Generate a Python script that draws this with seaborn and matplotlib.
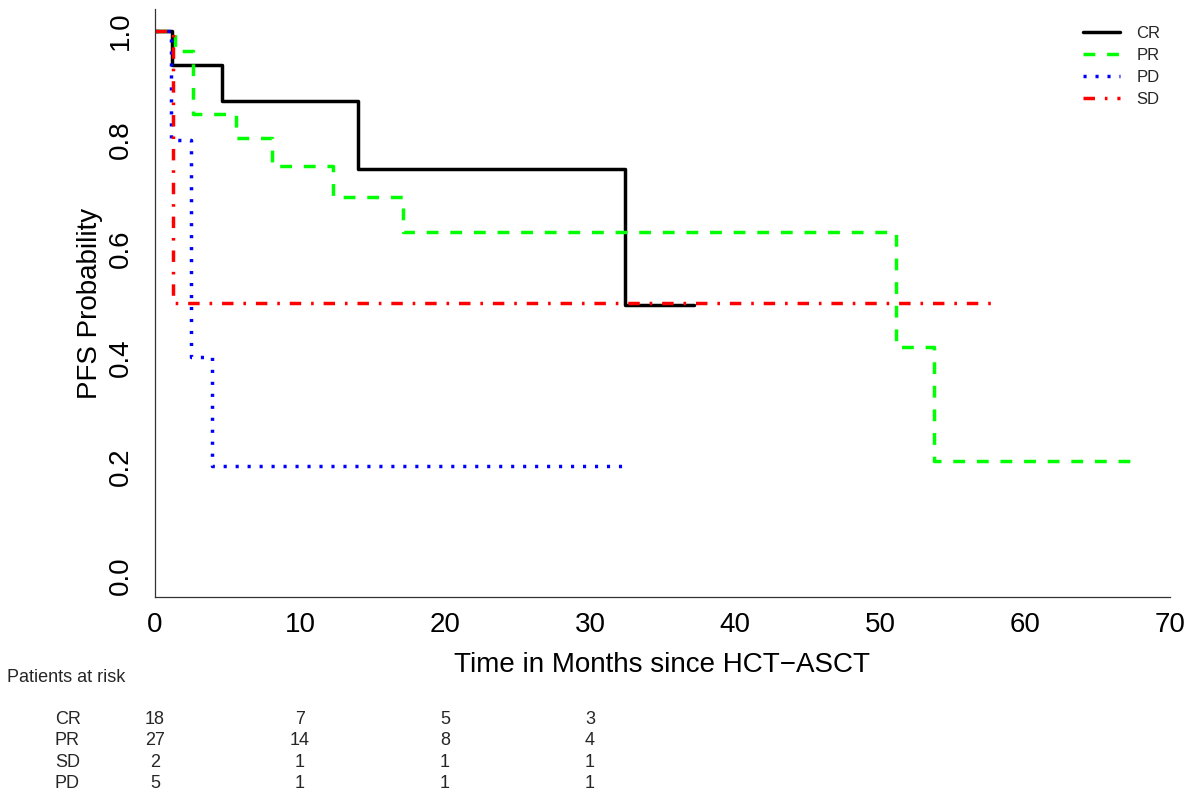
import numpy as np
import pandas as pd
import matplotlib
matplotlib.use("Agg")
import matplotlib.pyplot as plt
import matplotlib.transforms as mtransforms
import seaborn as sns

# ---------------- data ----------------
groups = ["CR", "PR", "PD", "SD"]

cr_time = [0, 1.15, 4.6, 14.0, 32.4, 37.15]
cr_surv = [1.0, 0.938, 0.871, 0.746, 0.497, 0.497]

pr_time = [0, 1.4, 2.6, 5.6, 8.1, 12.25, 17.1, 51.1, 53.75, 67.4]
pr_surv = [1.0, 0.962, 0.847, 0.803, 0.752, 0.695, 0.630, 0.420, 0.210, 0.210]

pd_time = [0, 1.1, 2.5, 3.9, 32.6]
pd_surv = [1.0, 0.8, 0.4, 0.2, 0.2]

sd_time = [0, 1.25, 57.75]
sd_surv = [1.0, 0.5, 0.5]

xticks = [0, 10, 20, 30, 40, 50, 60, 70]
yticks = [0.0, 0.2, 0.4, 0.6, 0.8, 1.0]
ytick_labels = ["0.0", "0.2", "0.4", "0.6", "0.8", "1.0"]

risk_times = [0, 10, 20, 30]
risk_rows = ["CR", "PR", "SD", "PD"]
risk_cr = [18, 7, 5, 3]
risk_pr = [27, 14, 8, 4]
risk_sd = [2, 1, 1, 1]
risk_pd = [5, 1, 1, 1]

# ---------------- style ----------------
sns.set_theme(style="white")
plt.rcParams["font.family"] = ["Liberation Sans", "DejaVu Sans"]

W, H = 1189, 795
fig = plt.figure(figsize=(W / 100, H / 100), dpi=100)
ax = fig.add_axes([155 / W, (H - 597) / H, (1170 - 155) / W, (597 - 9) / H])

series = {
    "CR": (cr_time, cr_surv, "black", "-"),
    "PR": (pr_time, pr_surv, "#00ff00", (0, (3.4, 3.4))),
    "PD": (pd_time, pd_surv, "#0000ff", (0, (0.9, 2.55))),
    "SD": (sd_time, sd_surv, "#ff0000", (0, (3.3, 2.85, 0.75, 2.85))),
}

lw = 2.5
handles = {}
for g in ["CR", "PR", "PD", "SD"]:
    t, s, c, ls = series[g]
    df = pd.DataFrame({"time": t, "surv": s})
    sns.lineplot(data=df, x="time", y="surv", ax=ax, color=c, linestyle=ls,
                 linewidth=lw, drawstyle="steps-post", estimator=None,
                 sort=False, legend=False)
    handles[g] = ax.lines[-1]

ax.set_xlim(0, 70)
ax.set_ylim(-0.04, 1.04)
ax.set_xticks(xticks)
ax.set_xticklabels([str(v) for v in xticks])
ax.set_yticks(yticks)
ax.set_yticklabels(ytick_labels)

for side in ["top", "right"]:
    ax.spines[side].set_visible(False)
for side in ["left", "bottom"]:
    ax.spines[side].set_color("#333333")
    ax.spines[side].set_linewidth(0.9)

ax.tick_params(axis="both", direction="out", length=8, width=0.9,
               color="#333333", labelsize=20, labelcolor="black")
ax.tick_params(axis="x", pad=3)
ax.tick_params(axis="y", pad=7, labelrotation=90)
for lab in ax.get_yticklabels():
    lab.set_va("center")
    lab.set_ha("right")

ax.set_xlabel("Time in Months since HCT\u2212ASCT", fontsize=20, labelpad=10, color="black")
ax.set_ylabel("PFS Probability", fontsize=20, labelpad=4, color="black")

ax.legend([handles[g] for g in groups], groups, loc="upper left",
          bbox_to_anchor=(1083 / W, 1 - 26 / H), bbox_transform=fig.transFigure,
          frameon=False, fontsize=12, handlelength=2.2, handletextpad=1.0,
          labelspacing=0.42, borderpad=0, borderaxespad=0)

# ---------------- at-risk table ----------------
fs_tab = 13
fig.text(7 / W, 1 - 682.5 / H, "Patients at risk", fontsize=fs_tab, ha="left", va="baseline")
risk_vals = [risk_cr, risk_pr, risk_sd, risk_pd]
blend = mtransforms.blended_transform_factory(ax.transData, fig.transFigure)
for r, (name, vals) in enumerate(zip(risk_rows, risk_vals)):
    yb = 724 + r * 21.4
    fig.text(55 / W, 1 - yb / H, name, fontsize=fs_tab, ha="left", va="baseline")
    for tx, v in zip(risk_times, vals):
        ax.text(tx, 1 - yb / H, str(v), transform=blend, fontsize=fs_tab,
                ha="center", va="baseline", clip_on=False)

fig.savefig("out.png", dpi=100)
